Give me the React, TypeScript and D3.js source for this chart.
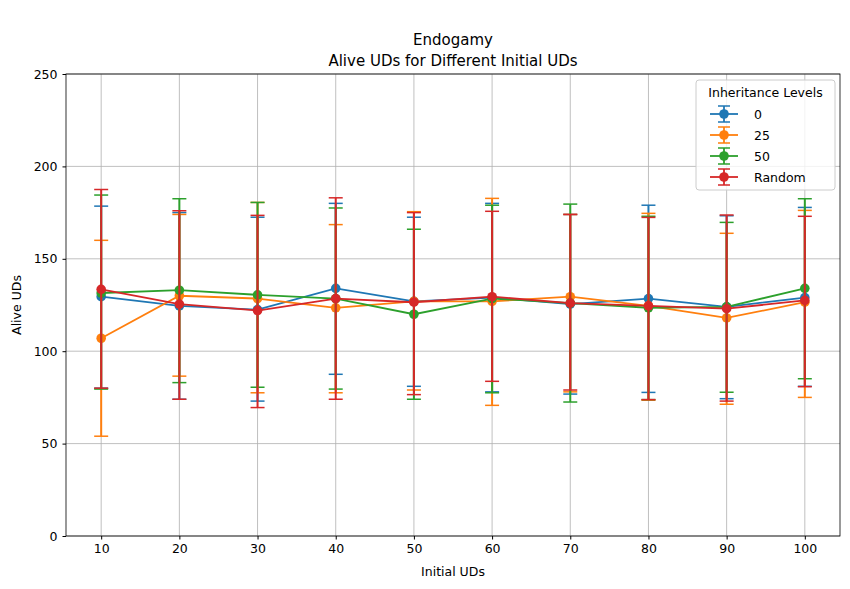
import { useEffect, useRef } from 'react';
import * as d3 from 'd3';

const initialUDs = [10, 20, 30, 40, 50, 60, 70, 80, 90, 100];
const seriesNames = ['0', '25', '50', 'Random'];
const colors = ['#1f77b4', '#ff7f0e', '#2ca02c', '#d62728'];

const means0 = [129.5, 124.5, 122.5, 134, 127, 129, 125.5, 128.5, 124, 129];
const upper0 = [178.5, 175, 172.5, 180, 172.5, 180, 174, 179, 173.3, 177.8];
const lower0 = [80, 74, 73, 87.5, 81, 78, 76.8, 77.7, 74.3, 81];

const means25 = [107, 130, 128.5, 123.5, 127, 127, 129.5, 124.5, 118, 126.5];
const upper25 = [160, 174, 180.5, 168.5, 175.5, 182.7, 174, 174.6, 163.8, 176.2];
const lower25 = [54, 86.5, 77.5, 77.5, 79, 70.7, 78, 73.5, 71.3, 75];

const means50 = [131.5, 133, 130.5, 128.5, 120, 128.5, 126, 123.5, 124, 134];
const upper50 = [184.5, 182.5, 180.5, 177.5, 166, 179, 179.6, 173, 169.7, 182.5];
const lower50 = [79.5, 83, 80.5, 79.5, 74, 77.5, 72.5, 73.8, 77.8, 85.1];

const meansR = [133.5, 125.5, 122, 128.5, 126.5, 129.5, 126, 124.5, 123, 127.5];
const upperR = [187.5, 176, 173.5, 183, 175, 175.7, 174, 172.4, 173.7, 173];
const lowerR = [80, 74, 69.5, 74, 76.5, 83.7, 79, 73.8, 73, 80.8];

const yTicks = [0, 50, 100, 150, 200, 250];

export default function App() {
  const ref = useRef<SVGSVGElement>(null);

  useEffect(() => {
    if (!ref.current) return;
    const svg = d3.select(ref.current);
    svg.selectAll('*').remove();
    const font = 'DejaVu Sans, sans-serif';
    const m = { left: 66, right: 840, top: 74, bottom: 536 };

    const x = d3.scaleLinear().domain([5.5, 104.5]).range([m.left, m.right]);
    const y = d3.scaleLinear().domain([0, 250]).range([m.bottom, m.top]);

    const g = svg.append('g').attr('font-family', font);

    // grid
    initialUDs.forEach(v => {
      g.append('line').attr('x1', x(v)).attr('x2', x(v)).attr('y1', m.top).attr('y2', m.bottom)
        .attr('stroke', '#b0b0b0').attr('stroke-width', 0.8);
    });
    yTicks.forEach(v => {
      g.append('line').attr('x1', m.left).attr('x2', m.right).attr('y1', y(v)).attr('y2', y(v))
        .attr('stroke', '#b0b0b0').attr('stroke-width', 0.8);
    });

    const series = [
      { m: means0, u: upper0, l: lower0 },
      { m: means25, u: upper25, l: lower25 },
      { m: means50, u: upper50, l: lower50 },
      { m: meansR, u: upperR, l: lowerR },
    ];
    const line = d3.line<number>().x((_, i) => x(initialUDs[i])).y(d => y(d));

    series.forEach((s, k) => {
      const c = colors[k];
      initialUDs.forEach((v, i) => {
        g.append('line').attr('x1', x(v)).attr('x2', x(v)).attr('y1', y(s.l[i])).attr('y2', y(s.u[i]))
          .attr('stroke', c).attr('stroke-width', 2);
        [s.l[i], s.u[i]].forEach(cv => {
          g.append('line').attr('x1', x(v) - 7).attr('x2', x(v) + 7).attr('y1', y(cv)).attr('y2', y(cv))
            .attr('stroke', c).attr('stroke-width', 1.5);
        });
      });
      g.append('path').attr('d', line(s.m)).attr('fill', 'none').attr('stroke', c).attr('stroke-width', 1.8);
      s.m.forEach((v, i) => {
        g.append('circle').attr('cx', x(initialUDs[i])).attr('cy', y(v)).attr('r', 4.8).attr('fill', c);
      });
    });

    // frame
    g.append('rect').attr('x', m.left).attr('y', m.top).attr('width', m.right - m.left)
      .attr('height', m.bottom - m.top).attr('fill', 'none').attr('stroke', '#000').attr('stroke-width', 0.8);

    // axes
    const xa = g.append('g').attr('transform', `translate(0,${m.bottom})`)
      .call(d3.axisBottom(x).tickValues(initialUDs).tickSize(3.5).tickPadding(5).tickSizeOuter(0));
    const ya = g.append('g').attr('transform', `translate(${m.left},0)`)
      .call(d3.axisLeft(y).tickValues(yTicks).tickSize(3.5).tickPadding(5).tickSizeOuter(0));
    [xa, ya].forEach(a => {
      a.select('.domain').remove();
      a.selectAll('text').attr('font-size', 12.5).attr('font-family', font).attr('fill', '#000');
    });

    g.append('text').attr('x', (m.left + m.right) / 2).attr('y', 576).attr('text-anchor', 'middle')
      .attr('font-size', 12.5).text('Initial UDs');
    g.append('text').attr('transform', `translate(21,${(m.top + m.bottom) / 2}) rotate(-90)`)
      .attr('text-anchor', 'middle').attr('font-size', 12.5).text('Alive UDs');
    g.append('text').attr('x', (m.left + m.right) / 2).attr('y', 45).attr('text-anchor', 'middle')
      .attr('font-size', 15).text('Endogamy');
    g.append('text').attr('x', (m.left + m.right) / 2).attr('y', 66).attr('text-anchor', 'middle')
      .attr('font-size', 15).text('Alive UDs for Different Initial UDs');

    // legend
    const lg = g.append('g').attr('transform', 'translate(696,80)');
    lg.append('rect').attr('width', 139).attr('height', 110).attr('rx', 3)
      .attr('fill', 'rgba(255,255,255,0.8)').attr('stroke', '#ccc');
    lg.append('text').attr('x', 69.5).attr('y', 17).attr('text-anchor', 'middle')
      .attr('font-size', 12.5).text('Inheritance Levels');
    seriesNames.forEach((n, k) => {
      const yy = 34 + k * 21;
      const c = colors[k];
      lg.append('line').attr('x1', 14).attr('x2', 42).attr('y1', yy).attr('y2', yy).attr('stroke', c).attr('stroke-width', 1.8);
      lg.append('line').attr('x1', 28).attr('x2', 28).attr('y1', yy - 8).attr('y2', yy + 8).attr('stroke', c).attr('stroke-width', 1.8);
      [yy - 8, yy + 8].forEach(cy => lg.append('line').attr('x1', 22).attr('x2', 34).attr('y1', cy).attr('y2', cy).attr('stroke', c).attr('stroke-width', 1.5));
      lg.append('circle').attr('cx', 28).attr('cy', yy).attr('r', 4.8).attr('fill', c);
      lg.append('text').attr('x', 58).attr('y', yy + 4.5).attr('font-size', 12.5).text(n);
    });
  }, []);

  return <svg ref={ref} width={850} height={589} style={{ display: 'block', margin: '-8px' }} />;
}
